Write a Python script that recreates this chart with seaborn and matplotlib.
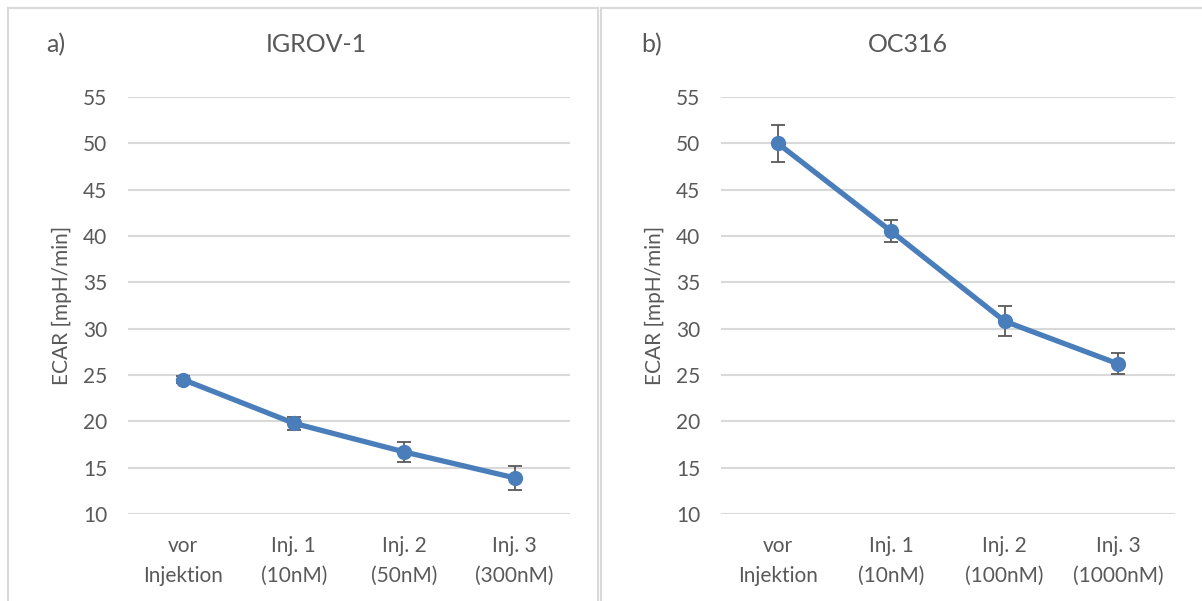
import matplotlib
matplotlib.use("Agg")
import matplotlib.pyplot as plt
import seaborn as sns
import pandas as pd
from matplotlib.patches import Rectangle

# ---- data ----
labels_a = ["vor\nInjektion", "Inj. 1\n(10nM)", "Inj. 2\n(50nM)", "Inj. 3\n(300nM)"]
values_a = [24.5, 19.8, 16.7, 13.9]
err_a = [0.4, 0.7, 1.1, 1.27]

labels_b = ["vor\nInjektion", "Inj. 1\n(10nM)", "Inj. 2\n(100nM)", "Inj. 3\n(1000nM)"]
values_b = [50.0, 40.5, 30.8, 26.2]
err_b = [2.0, 1.2, 1.6, 1.13]

titles = ["IGROV-1", "OC316"]
panel_tags = ["a)", "b)"]
y_label = "ECAR [mpH/min]"
y_ticks = [10, 15, 20, 25, 30, 35, 40, 45, 50, 55]

sns.set_theme(style="white")
plt.rcParams["font.family"] = ["Lato", "DejaVu Sans"]

TXT = "#595959"
GRID = "#d9d9d9"
BLUE = "#4a7ebb"

fig = plt.figure(figsize=(12.02, 6.01), dpi=100)
W, H = 1202, 601

# panel frames
fig.patches.append(Rectangle((8 / W, -0.05), 590 / W, 1 - 8 / H + 0.05, transform=fig.transFigure,
                             fill=False, edgecolor=GRID, linewidth=1.5))
fig.patches.append(Rectangle((601 / W, -0.05), 610 / W, 1 - 8 / H + 0.05, transform=fig.transFigure,
                             fill=False, edgecolor=GRID, linewidth=1.5))

axes_px = [(128, 570), (721, 1175)]
title_x = [316, 908]
tag_x = [56, 652]
datasets = [(labels_a, values_a, err_a), (labels_b, values_b, err_b)]

for i, ((x0, x1), (labs, vals, errs)) in enumerate(zip(axes_px, datasets)):
    ax = fig.add_axes([x0 / W, 1 - 514 / H, (x1 - x0) / W, 417 / H])
    df = pd.DataFrame({"cat": labs, "val": vals, "err": errs})
    pos = list(range(len(labs)))
    ax.errorbar(pos, df["val"], yerr=df["err"], fmt="none", ecolor=TXT,
                elinewidth=1.3, capsize=5, capthick=1.3, zorder=2)
    sns.lineplot(x=pos, y=df["val"], ax=ax, color=BLUE, linewidth=3.8,
                 marker="o", markersize=11, markeredgewidth=0, zorder=3)
    ax.set_xlim(-0.5, len(labs) - 0.5)
    ax.set_ylim(10, 55)
    ax.set_yticks(y_ticks)
    ax.set_xticks(pos)
    ax.set_xticklabels(labs, fontsize=15, color=TXT, linespacing=1.6)
    ax.tick_params(axis="y", labelsize=15, labelcolor=TXT, length=0, pad=15)
    ax.tick_params(axis="x", length=0, pad=16)
    ax.grid(axis="y", color=GRID, linewidth=1.5)
    ax.set_axisbelow(True)
    for s in ax.spines.values():
        s.set_visible(False)
    ax.set_xlabel("")
    ax.set_ylabel(y_label, fontsize=15, color=TXT, labelpad=8)
    fig.text(title_x[i] / W, 1 - 45 / H, titles[i], fontsize=18, color=TXT,
             ha="center", va="center")
    fig.text(tag_x[i] / W, 1 - 45 / H, panel_tags[i], fontsize=18, color=TXT,
             ha="center", va="center")

fig.savefig("out.png", dpi=100)
